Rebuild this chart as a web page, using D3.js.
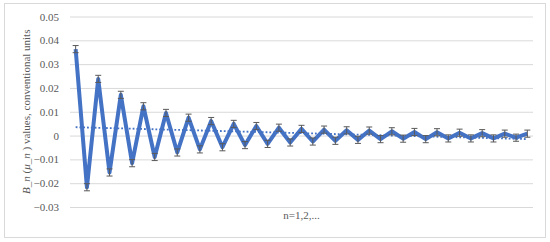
<!DOCTYPE html>
<html>
<head>
<meta charset="utf-8">
<script src="https://cdn.jsdelivr.net/npm/d3@7"></script>
<style>
  body { margin: 0; background: #fff; }
  text { font-family: "Liberation Serif", "Times New Roman", serif; fill: #595959; }
</style>
</head>
<body>
<div id="chart"></div>
<script>
// values, n = 1..41
var nValues = d3.range(1, 42);
var bValues = [0.0363, -0.0217, 0.0238, -0.0155, 0.0171, -0.0116, 0.0123, -0.0090, 0.0095, -0.0071,
               0.0075, -0.0058, 0.0061, -0.0049, 0.0049, -0.0040, 0.0040, -0.0035, 0.0033, -0.0029,
               0.0028, -0.0025, 0.0025, -0.0022, 0.0022, -0.0018, 0.0021, -0.0015, 0.0018, -0.0013,
               0.0015, -0.0015, 0.0014, -0.0012, 0.0012, -0.0012, 0.0010, -0.0012, 0.0008, -0.0009,
               0.0008];
var errValue = 0.0015;
var yTicks = [-0.03, -0.02, -0.01, 0, 0.01, 0.02, 0.03, 0.04, 0.05];

var width = 550, height = 242;
var margin = {top: 16.5, right: 17, bottom: 35, left: 70};
var w = width - margin.left - margin.right,
    h = height - margin.top - margin.bottom;

var svg = d3.select("#chart").append("svg")
            .attr("width", width)
            .attr("height", height);

// chart border
svg.append("rect")
   .attr("x", 4.5).attr("y", 3.5)
   .attr("width", 541).attr("height", 234)
   .attr("fill", "none")
   .attr("stroke", "#d9d9d9");

var g = svg.append("g")
           .attr("transform", "translate(" + margin.left + "," + margin.top + ")");

var xScale = d3.scaleBand()
               .domain(nValues)
               .range([0, w]);
var yScale = d3.scaleLinear()
               .domain([-0.03, 0.05])
               .range([h, 0]);
var cx = function(n) { return xScale(n) + xScale.bandwidth() / 2; };

//gridlines + labels
var yAxis = d3.axisLeft(yScale)
              .tickValues(yTicks)
              .tickSize(-w)
              .tickPadding(11)
              .tickFormat(function(d) { return d === 0 ? "0" : d3.format(".2f")(d); });
var ya = g.append("g").call(yAxis);
ya.select(".domain").remove();
ya.selectAll("line").attr("stroke", "#d9d9d9");
ya.selectAll("text").attr("font-size", "11px").attr("fill", "#595959")
  .style("font-family", "'Liberation Serif', serif");

// linear trendline (least squares)
var xm = d3.mean(nValues), ym = d3.mean(bValues);
var slope = d3.sum(nValues, function(n, i) { return (n - xm) * (bValues[i] - ym); }) /
            d3.sum(nValues, function(n) { return (n - xm) * (n - xm); });
var icpt = ym - slope * xm;
var n0 = nValues[0], n1 = nValues[nValues.length - 1];

// main series
var line = d3.line()
             .x(function(d, i) { return cx(nValues[i]); })
             .y(function(d) { return yScale(d); });
g.append("path")
 .datum(bValues)
 .attr("d", line)
 .attr("fill", "none")
 .attr("stroke", "#4472c4")
 .attr("stroke-width", 4)
 .attr("stroke-linejoin", "round");

// trendline drawn over series
g.append("line")
 .attr("x1", cx(n0)).attr("y1", yScale(icpt + slope * n0))
 .attr("x2", cx(n1)).attr("y2", yScale(icpt + slope * n1))
 .attr("stroke", "#4472c4")
 .attr("stroke-width", 1.8)
 .attr("stroke-dasharray", "1.8,2");

// error bars
var eb = g.selectAll("g.err")
          .data(bValues)
          .enter().append("g")
          .attr("class", "err")
          .attr("stroke", "#595959")
          .attr("stroke-width", 1);
eb.append("line")
  .attr("x1", function(d, i) { return cx(nValues[i]); })
  .attr("x2", function(d, i) { return cx(nValues[i]); })
  .attr("y1", function(d) { return yScale(d + errValue); })
  .attr("y2", function(d) { return yScale(d - errValue); });
[1, -1].forEach(function(s) {
  eb.append("line")
    .attr("x1", function(d, i) { return cx(nValues[i]) - 3; })
    .attr("x2", function(d, i) { return cx(nValues[i]) + 3; })
    .attr("y1", function(d) { return yScale(d + s * errValue); })
    .attr("y2", function(d) { return yScale(d + s * errValue); });
});

// axis titles
var yt = svg.append("text")
            .attr("text-anchor", "middle")
            .attr("font-size", "11px")
            .attr("transform", "translate(30," + (margin.top + h / 2) + ")rotate(-90)");
yt.append("tspan").attr("font-style", "italic").text("B_n");
yt.append("tspan").text(" (");
yt.append("tspan").attr("font-style", "italic").text("μ_n");
yt.append("tspan").text(" ) values, conventional units");

svg.append("text")
   .attr("text-anchor", "middle")
   .attr("font-size", "11px")
   .attr("x", margin.left + w / 2)
   .attr("y", 219)
   .text("n=1,2,...");
</script>
</body>
</html>
